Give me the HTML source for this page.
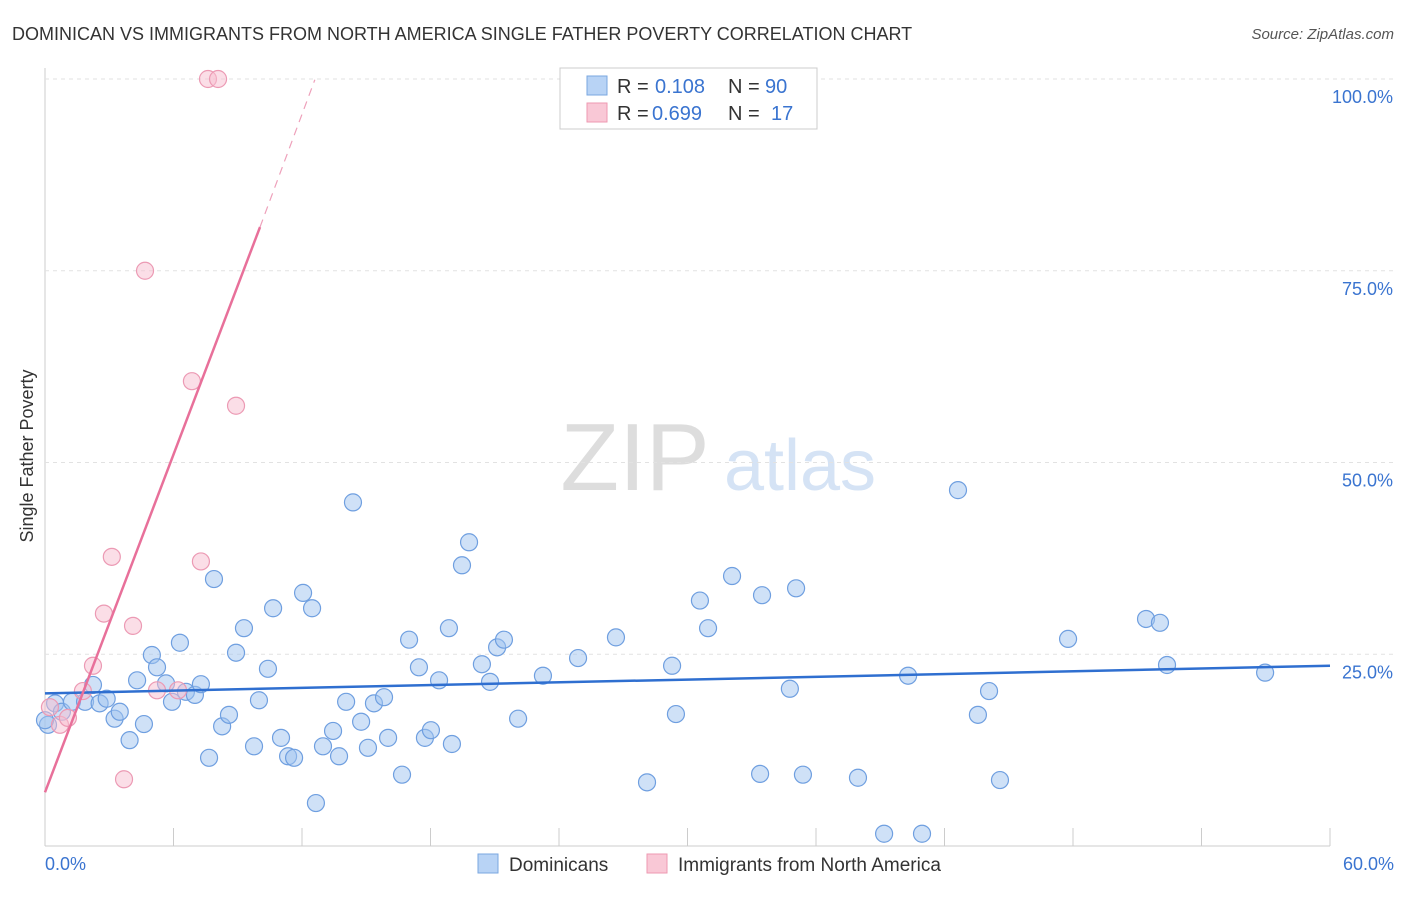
<!DOCTYPE html>
<html><head><meta charset="utf-8"><style>
body{margin:0;background:#fff;font-family:"Liberation Sans",sans-serif;}
svg text{font-family:"Liberation Sans",sans-serif;}
</style></head><body>
<svg id="c" width="1406" height="892">
<text x="12" y="40" font-size="18" fill="#333">DOMINICAN VS IMMIGRANTS FROM NORTH AMERICA SINGLE FATHER POVERTY CORRELATION CHART</text>
<text x="1394" y="39" font-size="15" fill="#555" font-style="italic" text-anchor="end">Source: ZipAtlas.com</text>
<text x="33" y="456" font-size="18" fill="#333" text-anchor="middle" transform="rotate(-90 33 456)">Single Father Poverty</text>
<text x="635" y="490" font-size="96" fill="#ddd" font-family="Liberation Serif" text-anchor="middle">ZIP</text>
<text x="800" y="490" font-size="72" fill="#d5e3f5" text-anchor="middle">atlas</text>
<g id="grid"></g><g id="pts"></g><g id="lines"></g>
<g>
<rect x="560" y="68" width="257" height="61" fill="#fff" stroke="#ccc"/>
<rect x="587" y="76" width="20" height="19" fill="#b8d3f5" stroke="#7aa7e0"/>
<rect x="587" y="103" width="20" height="19" fill="#f9c8d6" stroke="#ee99b1"/>
<text x="617" y="93" font-size="20" fill="#333">R =</text>
<text x="655" y="93" font-size="20" fill="#3a74d0">0.108</text>
<text x="728" y="93" font-size="20" fill="#333">N =</text>
<text x="765" y="93" font-size="20" fill="#3a74d0">90</text>
<text x="617" y="120" font-size="20" fill="#333">R =</text>
<text x="652" y="120" font-size="20" fill="#3a74d0">0.699</text>
<text x="728" y="120" font-size="20" fill="#333">N =</text>
<text x="771" y="120" font-size="20" fill="#3a74d0">17</text>
</g>
<g>
<rect x="478" y="854" width="20" height="19" fill="#b8d3f5" stroke="#7aa7e0"/>
<text x="509" y="871" font-size="19" fill="#333">Dominicans</text>
<rect x="647" y="854" width="20" height="19" fill="#f9c8d6" stroke="#ee99b1"/>
<text x="678" y="871" font-size="19" fill="#333">Immigrants from North America</text>
</g>
</svg>
<script>
const xTicks=[0,6,12,18,24,30,36,42,48,54,60];
const yTicks=[25,50,75,100];
const blueX=[0.47,0.79,1.26,1.87,2.24,2.55,2.88,3.25,3.49,3.95,4.30,4.62,4.99,5.23,5.65,5.93,6.30,6.58,7.00,7.28,7.66,7.89,8.27,8.59,8.92,9.29,9.76,9.99,10.41,10.65,11.02,11.35,11.63,12.05,12.47,12.65,12.98,13.45,13.73,14.06,14.76,15.08,15.36,15.83,16.02,16.67,17.00,17.46,17.74,18.02,18.40,18.86,19.00,19.47,19.80,20.40,20.78,21.11,21.43,22.09,23.25,24.89,26.66,28.11,29.28,29.46,30.58,30.96,32.08,33.39,33.48,34.78,35.07,35.39,37.96,39.18,40.30,40.95,42.63,43.56,44.08,44.59,47.77,51.41,52.06,52.39,56.97,14.38,0.14,0.0];
const blueY=[18.6,17.5,18.8,18.8,21.0,18.6,19.2,16.6,17.5,13.8,21.6,15.9,24.9,23.3,21.2,18.8,26.5,20.1,19.7,21.1,11.5,34.8,15.6,17.1,25.2,28.4,13.0,19.0,23.1,31.0,14.1,11.7,11.5,33.0,31.0,5.6,13.0,15.0,11.7,18.8,16.2,12.8,18.6,19.4,14.1,9.3,26.9,23.3,14.1,15.1,21.6,28.4,13.3,36.6,39.6,23.7,21.4,25.9,26.9,16.6,22.2,24.5,27.2,8.3,23.5,17.2,32.0,28.4,35.2,9.4,32.7,20.5,33.6,9.3,8.9,1.6,22.2,1.6,46.4,17.1,20.2,8.6,27.0,29.6,29.1,23.6,22.6,44.8,15.8,16.4];
const pinkX=[0.23,0.70,1.07,1.77,2.24,2.75,3.12,3.69,4.11,4.67,5.23,6.21,6.86,7.28,7.61,8.08,8.92];
const pinkY=[18.1,15.8,16.7,20.2,23.5,30.3,37.7,8.7,28.7,75.0,20.3,20.3,60.6,37.1,100,100,57.4];
const blueTrend=[[0,19.9],[60,23.5]];
const pinkTrendSolid=[[0,7.0],[10.04,80.7]];
const pinkTrendDash=[[10.04,80.7],[12.6,99.9]];
const X=v=>45+v/60*1285, Y=v=>846-v*7.67;
const ns="http://www.w3.org/2000/svg";
function mk(t,a,p){const e=document.createElementNS(ns,t);for(const k in a)e.setAttribute(k,a[k]);document.getElementById(p).appendChild(e);return e;}
let ax=mk('line',{x1:45,x2:1330,y1:846,y2:846,stroke:'#ccc'},'grid');


let ay=mk('line',{x1:45,x2:45,y1:68,y2:846,stroke:'#ccc'},'grid');


xTicks.forEach(t=>{const e=mk('line',{x1:X(t),x2:X(t),y1:828,y2:846,stroke:'#ccc'},'grid');

});
[[0,'0.0%','start',45],[60,'60.0%','end',1394]].forEach(d=>{const e=mk('text',{x:d[3],y:870,'font-size':18,fill:'#3a74d0','text-anchor':d[2]},'grid');e.textContent=d[1];

});
yTicks.forEach(t=>{const g=mk('line',{x1:45,x2:1394,y1:Y(t),y2:Y(t),stroke:'#e2e2e2','stroke-dasharray':'4,4'},'grid');


const e=mk('text',{x:1393,y:Y(t)+24,'font-size':18,fill:'#3a74d0','text-anchor':'end'},'grid');e.textContent=t.toFixed(1)+'%';

});
blueX.forEach((v,i)=>{const c=mk('circle',{cx:X(v),cy:Y(blueY[i]),r:8.5,fill:'rgba(160,196,240,0.5)',stroke:'#6f9fe0','stroke-width':1.2},'pts');

});
pinkX.forEach((v,i)=>{const c=mk('circle',{cx:X(v),cy:Y(pinkY[i]),r:8.5,fill:'rgba(248,190,208,0.5)',stroke:'#ec9ab4','stroke-width':1.2},'pts');

});
const l1=mk('line',{x1:X(blueTrend[0][0]),y1:Y(blueTrend[0][1]),x2:X(blueTrend[1][0]),y2:Y(blueTrend[1][1]),stroke:'#2f6fd0','stroke-width':2.5},'lines');


const l2=mk('line',{x1:X(pinkTrendSolid[0][0]),y1:Y(pinkTrendSolid[0][1]),x2:X(pinkTrendSolid[1][0]),y2:Y(pinkTrendSolid[1][1]),stroke:'#e8709a','stroke-width':2.5},'lines');


const l3=mk('line',{x1:X(pinkTrendDash[0][0]),y1:Y(pinkTrendDash[0][1]),x2:X(pinkTrendDash[1][0]),y2:Y(pinkTrendDash[1][1]),stroke:'#eea0ba','stroke-width':1.2,'stroke-dasharray':'8,6'},'lines');


</script>
</body></html>
